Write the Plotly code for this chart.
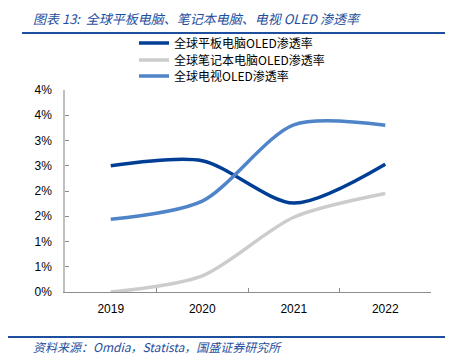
import plotly.graph_objects as go

years = ["2019", "2020", "2021", "2022"]
tablet = [2.50, 2.60, 1.76, 2.53]
notebook = [0.00, 0.32, 1.48, 1.95]
tv = [1.44, 1.80, 3.31, 3.30]
names = ["全球平板电脑OLED渗透率", "全球笔记本电脑OLED渗透率", "全球电视OLED渗透率"]
colors = ["#003E96", "#CCCCCC", "#4F84C8"]
ytick_vals = [0, 0.5, 1, 1.5, 2, 2.5, 3, 3.5, 4]
ytick_text = ["0%", "1%", "1%", "2%", "2%", "3%", "3%", "4%", "4%"]
title_text = "图表 13:  全球平板电脑、笔记本电脑、电视 OLED 渗透率"
source_text = "资料来源：Omdia，Statista，国盛证券研究所"

OFF = 8  # page body margin offset
W, H = 453 - OFF, 363 - OFF
L, R, T, B = 65 - OFF, 30 - OFF, 90 - OFF, 71
pw, ph = W - L - R, H - T - B

def px(x):
    return (x - OFF - L) / pw

def py(y):
    return (H - B - (y - OFF)) / ph

legend_ids = ["legend", "legend2", "legend3"]
legend_rows = [43, 60, 76]

fig = go.Figure()
for name, vals, col, lid in zip(names, [tablet, notebook, tv], colors, legend_ids):
    fig.add_trace(go.Scatter(x=years, y=vals, name=name, mode="lines", legend=lid,
                             line=dict(color=col, width=3.5, shape="spline", smoothing=0.8)))

legend_layout = {}
for lid, row in zip(legend_ids, legend_rows):
    legend_layout[lid] = dict(x=px(134), y=py(row), xanchor="left", yanchor="middle",
                              font=dict(family="Noto Sans CJK SC", size=12, color="#000000"),
                              bgcolor="rgba(0,0,0,0)", itemwidth=30)

fig.update_layout(
    width=W, height=H,
    margin=dict(l=L, r=R, t=T, b=B, autoexpand=False),
    paper_bgcolor="white", plot_bgcolor="white",
    font=dict(family="Liberation Sans, Noto Sans CJK SC", size=12, color="#000000"),
    showlegend=True,
    xaxis=dict(type="category", range=[-0.5, 3.5], showgrid=False,
               showline=True, linecolor="#8C8C8C", linewidth=1,
               ticks="inside", ticklen=4, tickcolor="#8C8C8C", tickson="boundaries",
               ticklabelstandoff=6, tickfont=dict(size=12)),
    yaxis=dict(range=[0, 4], tickvals=ytick_vals, ticktext=ytick_text, showgrid=False,
               zeroline=False, showline=True, linecolor="#BFBFBF", linewidth=1.5,
               ticks="inside", ticklen=4, tickcolor="#8C8C8C",
               ticklabelstandoff=9, tickfont=dict(size=12)),
    annotations=[
        dict(text=title_text, x=px(31), y=py(19), xref="paper", yref="paper",
             xanchor="left", yanchor="middle", showarrow=False,
             font=dict(family="Noto Sans CJK SC", size=13, color="#1E4E9E", style="italic")),
        dict(text=source_text, x=px(31), y=py(346), xref="paper", yref="paper",
             xanchor="left", yanchor="middle", showarrow=False,
             font=dict(family="Noto Sans CJK SC", size=12, color="#1E4E9E", style="italic")),
    ],
    shapes=[
        dict(type="line", xref="paper", yref="paper", x0=px(22), x1=px(445),
             y0=py(33), y1=py(33), line=dict(color="#1E4E9E", width=2)),
        dict(type="line", xref="paper", yref="paper", x0=px(8), x1=px(445),
             y0=py(337), y1=py(337), line=dict(color="#1E4E9E", width=2)),
    ],
    **legend_layout,
)
fig.write_html("out.html")
